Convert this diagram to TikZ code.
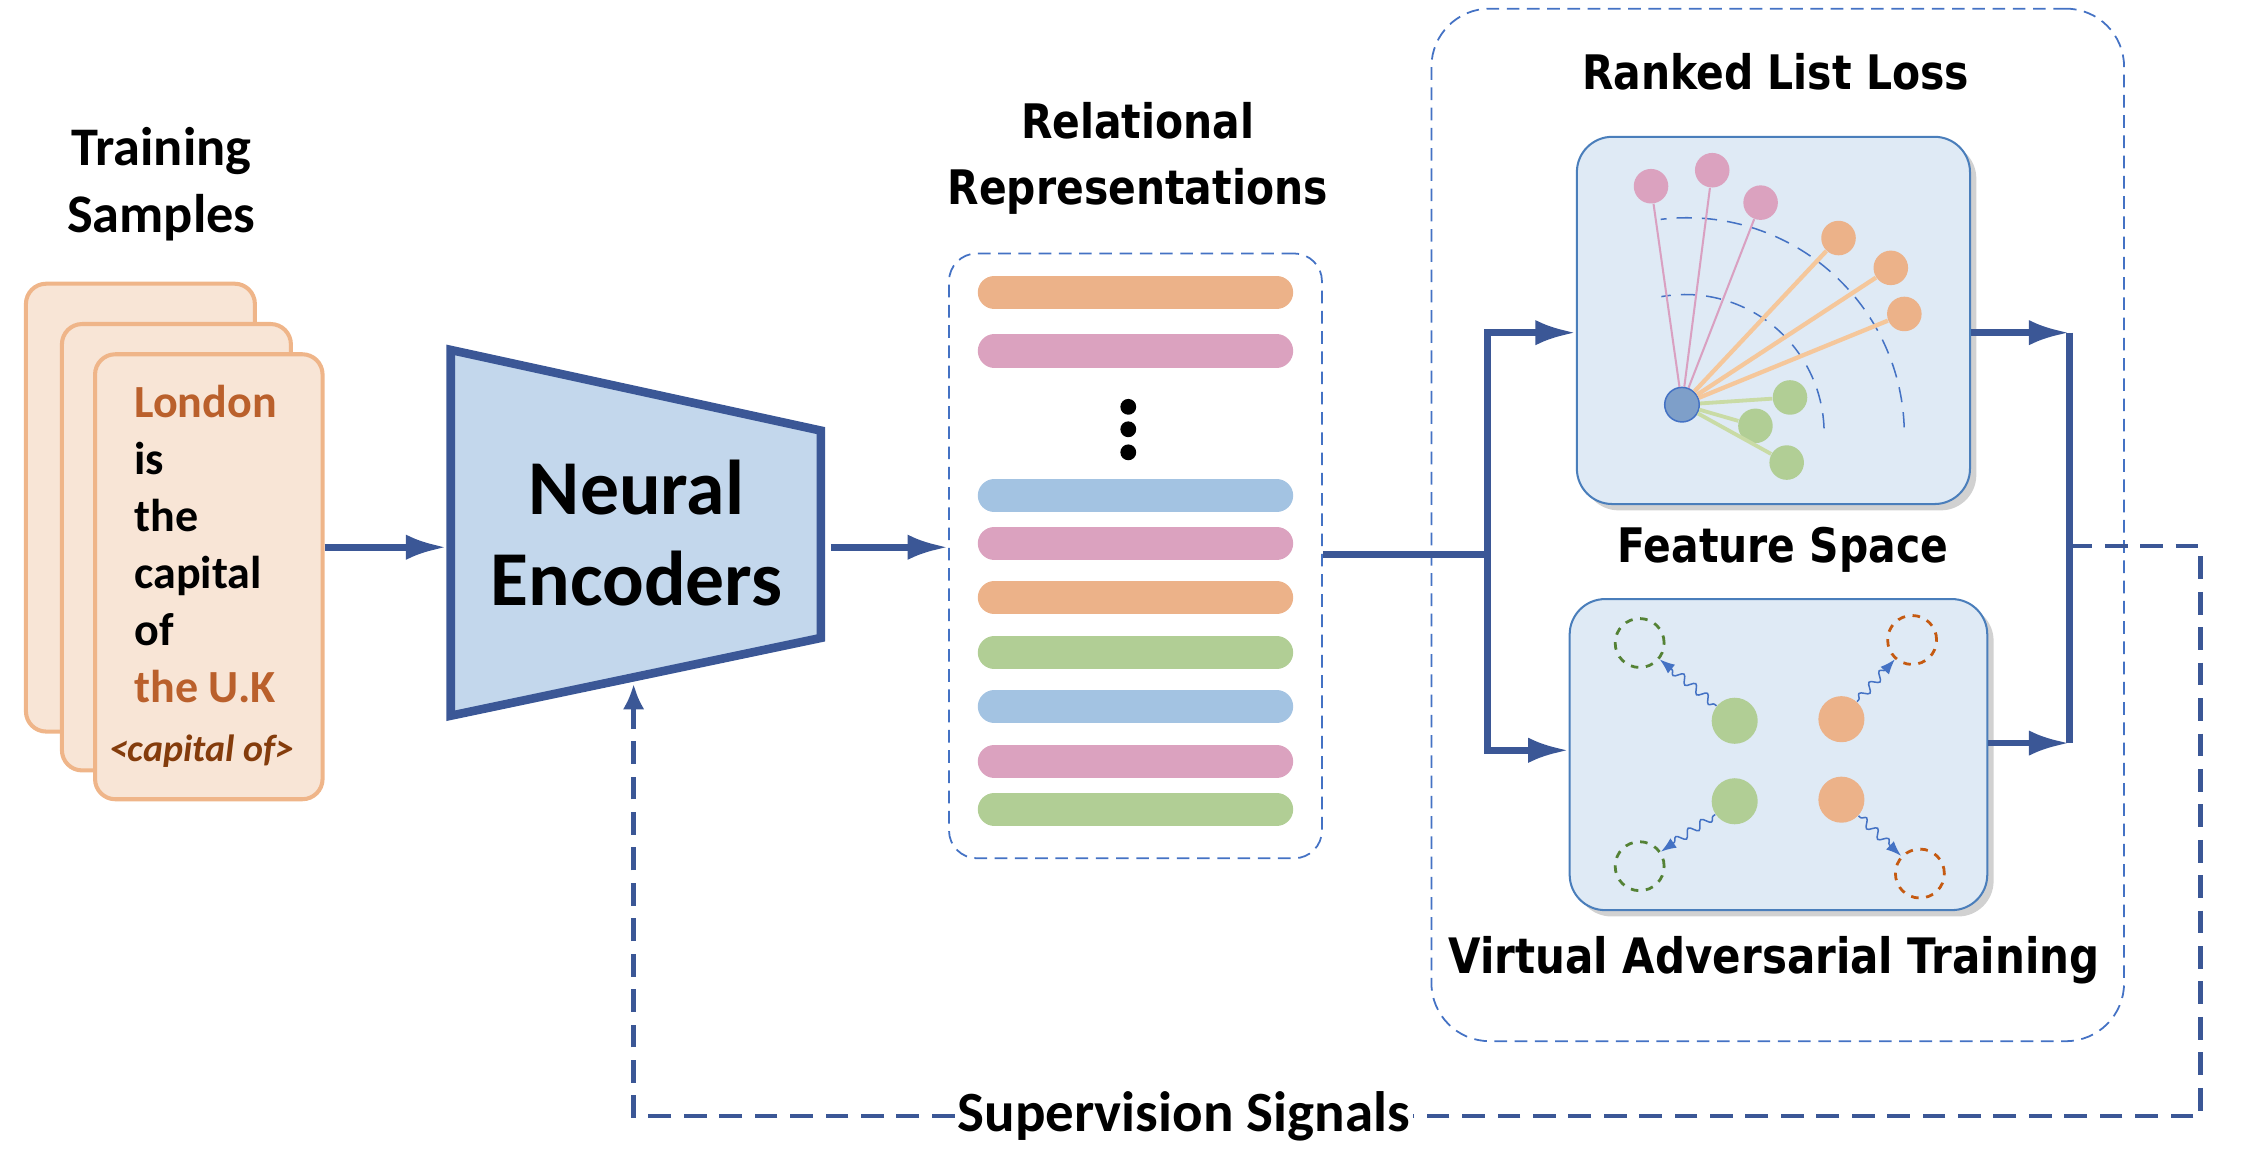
\documentclass[tikz,border=0pt]{standalone}
\usepackage{fontspec}
\setmainfont{Carlito}
\newfontfamily\headfont{DejaVu Sans}[FakeStretch=0.86]
\usepackage{tikz}
\usetikzlibrary{arrows.meta,positioning,calc,fit,shadows,decorations.pathmorphing}

\definecolor{encblue}{RGB}{59,87,150}
\definecolor{encfill}{RGB}{195,215,236}
\definecolor{cardline}{RGB}{239,181,137}
\definecolor{cardfill}{RGB}{248,229,214}
\definecolor{txtorange}{RGB}{186,96,44}
\definecolor{txtbrown}{RGB}{132,60,12}
\definecolor{linkblue}{RGB}{68,114,196}
\definecolor{panelline}{RGB}{74,126,187}
\definecolor{panelfill}{RGB}{223,234,245}
\definecolor{barorange}{RGB}{236,178,137}
\definecolor{barpink}{RGB}{219,162,191}
\definecolor{barblue}{RGB}{163,195,226}
\definecolor{bargreen}{RGB}{177,206,149}
\definecolor{centerblue}{RGB}{126,159,201}
\definecolor{cpinkline}{RGB}{217,160,193}
\definecolor{corangeline}{RGB}{245,199,155}
\definecolor{cgreenline}{RGB}{201,219,165}
\definecolor{ghostgreen}{RGB}{84,130,53}
\definecolor{ghostorange}{RGB}{197,90,17}

\tikzset{
  card/.style={draw=cardline, fill=cardfill, line width=1.6pt, rounded corners=8pt, inner sep=0pt},
  word/.style={anchor=base west, inner sep=0pt, font=\bfseries\fontsize{18.2}{22}\selectfont},
  encoder/.style={draw=encblue, fill=encfill, line width=3.4pt, line join=miter},
  flowline/.style={draw=encblue, line width=2.6pt},
  flow/.style={flowline, -{Latex[length=16pt,width=10pt]}},
  dashbox/.style={draw=linkblue, line width=0.7pt, dash pattern=on 5pt off 3pt, inner sep=0pt},
  repbar/.style={line width=13.1pt, line cap=round},
  panel/.style={draw=panelline, fill=panelfill, line width=0.8pt, rounded corners=14pt, inner sep=0pt,
    drop shadow={shadow xshift=2.5pt, shadow yshift=-2.5pt, opacity=0.3, fill=black!60}},
  headtxt/.style={inner sep=0pt, align=center, font=\headfont\bfseries\fontsize{18.8}{26.2}\selectfont},
  fdot/.style={circle, inner sep=0pt, minimum size=0.48cm},
  fcenter/.style={fdot, fill=centerblue, draw=linkblue, line width=0.6pt},
  arcline/.style={draw=linkblue, line width=0.6pt, dash pattern=on 6pt off 4pt},
  vatdot/.style={circle, inner sep=0pt, minimum size=0.64cm},
  ghost/.style={circle, inner sep=0pt, minimum size=0.68cm, line width=1.1pt, dash pattern=on 3pt off 3pt},
  wave/.style={draw=linkblue, line width=0.6pt, decorate,
    decoration={snake, amplitude=1.6pt, segment length=6pt, pre length=1pt, post length=5pt},
    -{Latex[length=6pt,width=4.5pt]}},
  supline/.style={draw=encblue, line width=1.7pt, dash pattern=on 9pt off 5pt},
}

\begin{document}
\begin{tikzpicture}[x=0.02cm, y=-0.02cm]
\useasboundingbox (0,0) rectangle (1568,801.4);

% training samples
\node[inner sep=0pt, align=center, font=\bfseries\fontsize{21.5}{26.7}\selectfont] (train) at (112,128) {Training\\Samples};
\node[card, fit={(18,197) (177,508)}] (back) {};
\node[card, fit={(43,225) (202,535)}] (middle) {};
\node[card, fit={(66,246) (224,555)}] (front) {};
\foreach \w [count=\i] in {{\color{txtorange}London}, is, the, capital, of, {\color{txtorange}the U.K}}
  \node[word] (w\i) at (93,{250.3+39.6*\i}) {\w};
\node[inner sep=0pt, text=txtbrown, font=\bfseries\itshape\fontsize{15}{18}\selectfont, anchor=base] (rel) at (140,529) {<capital of>};

% encoder
\draw[encoder] (313,243) coordinate (enctl) -- (570,299) -- (570,443) -- (313,497) -- cycle;
\node[inner sep=0pt, align=center, font=\bfseries\fontsize{30.7}{35.8}\selectfont] (enclabel) at (442,370) {Neural\\Encoders};
\coordinate (encin) at (310,380);
\coordinate (encout) at (577,380);
\coordinate (encbot) at (440,475);

% relational representations
\node[headtxt] (relrep) at (790,110) {Relational\\Representations};
\node[dashbox, rounded corners=11pt, fit={(659,176) (918,596)}] (rep) {};
\foreach \c/\y in {barorange/203, barpink/243.7, barblue/344.2, barpink/377.3, barorange/415, bargreen/453.2, barblue/490.6, barpink/528.7, bargreen/562}
  \draw[repbar, draw=\c] (690.5,\y) -- (886.5,\y);
\foreach \y in {282.5,298.1,314.1}
  \fill (783.5,\y) circle (5.5);

\draw[flow] (front.east |- encin) -- (encin);
\draw[flow] (encout) -- (rep.west |- encout);

% loss and training block
\node[dashbox, rounded corners=23pt, fit={(994,6) (1475,723)}] (outer) {};
\node[headtxt] (rll) at (1233,50) {Ranked List Loss};
\node[headtxt] (fspace) at (1238,382) {Feature Space};
\node[headtxt, font=\headfont\bfseries\fontsize{19.3}{24}\selectfont] (vat) at (1232,667) {Virtual Adversarial Training};
\node[panel, fit={(1095,95) (1368,350)}] (rank) {};
\node[panel, fit={(1090,416) (1380,632)}] (vatbox) {};

% feature space
\draw[arcline] (1170.4,300.8) ++(-2:96.3) arc[start angle=-2, end angle=-100, radius=96.3];
\draw[arcline] (1171.6,302) ++(-2:150.8) arc[start angle=-2, end angle=-97, radius=150.8];
\node[fcenter] (anc) at (1168,281) {};
\foreach \n/\x/\y in {p1/1146.5/129.3, p2/1189/118.2, p3/1222.6/140.7}
  \node[fdot, fill=barpink] (\n) at (\x,\y) {};
\foreach \n/\x/\y in {o1/1276.7/165.3, o2/1313/186, o3/1322.4/218}
  \node[fdot, fill=barorange] (\n) at (\x,\y) {};
\foreach \n/\x/\y in {g1/1243/276, g2/1219/295.7, g3/1240.7/321.2}
  \node[fdot, fill=bargreen] (\n) at (\x,\y) {};
\foreach \n in {p1,p2,p3}
  \draw[cpinkline, line width=0.8pt] (anc) -- (\n);
\foreach \n in {o1,o2,o3}
  \draw[corangeline, line width=1.7pt] (anc) -- (\n);
\foreach \n in {g1,g2,g3}
  \draw[cgreenline, line width=1.5pt] (anc) -- (\n);

% virtual adversarial training
\node[vatdot, fill=bargreen] (gs1) at (1204.6,500.5) {};
\node[vatdot, fill=barorange] (os1) at (1278.7,499.4) {};
\node[vatdot, fill=bargreen] (gs2) at (1204.6,556.4) {};
\node[vatdot, fill=barorange] (os2) at (1278.7,555.3) {};
\node[ghost, draw=ghostgreen] (gd1) at (1138.6,446.5) {};
\node[ghost, draw=ghostorange] (od1) at (1327.8,444.4) {};
\node[ghost, draw=ghostgreen] (gd2) at (1138.6,601.5) {};
\node[ghost, draw=ghostorange] (od2) at (1333.2,606.6) {};
\draw[wave] (gs1) -- (gd1);
\draw[wave] (os1) -- (od1);
\draw[wave] (gs2) -- (gd2);
\draw[wave] (os2) -- (od2);

% split and join
\coordinate (splitL) at (1033,385);
\coordinate (splitT) at (1033,231);
\coordinate (splitB) at (1033,521);
\coordinate (joinT) at (1437,231);
\coordinate (joinB) at (1437,516);
\coordinate (joinM) at (1437,379);
\coordinate (turn) at (1528,379);
\draw[flowline] (rep.east |- splitL) -- (splitL);
\draw[flow] (splitL) |- (rank.west |- splitT);
\draw[flow] (splitL) |- (vatbox.west |- splitB);
\draw[flow] (rank.east |- joinT) -- (joinT);
\draw[flow] (vatbox.east |- joinB) -- (joinB);
\draw[flowline] (joinT) -- (joinB);

% supervision
\node[inner sep=1pt, font=\bfseries\fontsize{22.5}{27}\selectfont] (sup) at (822,775) {Supervision Signals};
\draw[supline] (joinM) -- (turn) |- (sup.east);
\draw[supline, -{Latex[length=10pt,width=8.5pt]}] (sup.west) -| (encbot);
\end{tikzpicture}
\end{document}
